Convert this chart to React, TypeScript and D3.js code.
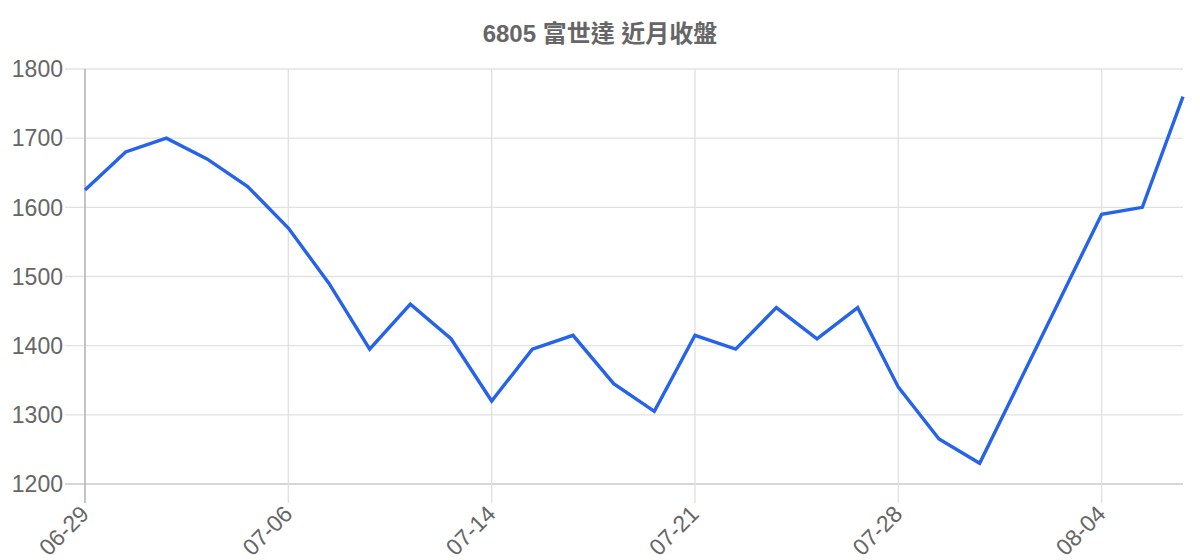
import React, { useRef, useEffect } from 'react';
import * as d3 from 'd3';

const title = '6805 富世達 近月收盤';

const dates = [
  '06-29', '06-30', '07-03', '07-04', '07-05', '07-06', '07-10', '07-11', '07-12', '07-13',
  '07-14', '07-17', '07-18', '07-19', '07-20', '07-21', '07-24', '07-25', '07-26', '07-27',
  '07-28', '07-31', '08-01', '08-02', '08-03', '08-04', '08-07', '08-08',
];

const closes = [
  1625, 1680, 1700, 1670, 1630, 1570, 1490, 1395, 1460, 1410,
  1320, 1395, 1415, 1345, 1305, 1415, 1395, 1455, 1410, 1455,
  1340, 1265, 1230, 1350, 1470, 1590, 1600, 1760,
];

const yTicks = [1200, 1300, 1400, 1500, 1600, 1700, 1800];
const labelEvery = 5;

const font = '"Liberation Sans", Arial, "Noto Sans CJK TC", sans-serif';

const PriceChart: React.FC = () => {
  const svgRef = useRef<SVGSVGElement>(null);

  useEffect(() => {
    if (!svgRef.current) return;

    const svg = d3.select(svgRef.current);
    svg.selectAll('*').remove();

    const width = 1200;
    const height = 560;
    const left = 85;
    const right = 1183;
    const top = 69;
    const bottom = 484;

    svg.attr('width', width).attr('height', height);

    const x = d3.scalePoint<string>().domain(dates).range([left, right]);
    const y = d3.scaleLinear().domain([1200, 1800]).range([bottom, top]);

    svg.append('text')
      .attr('x', width / 2)
      .attr('y', 42)
      .attr('text-anchor', 'middle')
      .attr('font-family', font)
      .attr('font-size', 24)
      .attr('font-weight', 'bold')
      .attr('fill', '#666')
      .text(title);

    // horizontal grid + y ticks
    const yg = svg.append('g');
    yg.selectAll('line')
      .data(yTicks)
      .enter().append('line')
      .attr('x1', left - 20)
      .attr('x2', right)
      .attr('y1', d => y(d))
      .attr('y2', d => y(d))
      .attr('stroke', d => (d === 1200 ? '#c8c8c8' : '#e2e2e2'))
      .attr('stroke-width', d => (d === 1200 ? 1.5 : 1.3));

    yg.selectAll('text')
      .data(yTicks)
      .enter().append('text')
      .attr('x', left - 22)
      .attr('y', d => y(d))
      .attr('dy', '0.36em')
      .attr('text-anchor', 'end')
      .attr('font-family', font)
      .attr('font-size', 23)
      .attr('fill', '#666')
      .text(d => d);

    // vertical grid + x ticks
    const tickDates = dates.filter((_, i) => i % labelEvery === 0);
    const xg = svg.append('g');
    xg.selectAll('line')
      .data(tickDates)
      .enter().append('line')
      .attr('x1', d => x(d)!)
      .attr('x2', d => x(d)!)
      .attr('y1', top)
      .attr('y2', bottom + 19)
      .attr('stroke', (d, i) => (i === 0 ? '#b0b0b0' : '#e0e0e0'))
      .attr('stroke-width', (d, i) => (i === 0 ? 1.5 : 1.3));

    xg.selectAll('text')
      .data(tickDates)
      .enter().append('text')
      .attr('transform', d => `translate(${x(d)! - 6},${bottom + 20}) rotate(-45)`)
      .attr('dy', '0.7em')
      .attr('text-anchor', 'end')
      .attr('font-family', font)
      .attr('font-size', 23)
      .attr('fill', '#666')
      .text(d => d);

    const line = d3.line<number>()
      .x((_, i) => x(dates[i])!)
      .y(d => y(d));

    svg.append('path')
      .datum(closes)
      .attr('d', line)
      .attr('fill', 'none')
      .attr('stroke', '#2563eb')
      .attr('stroke-width', 3.4)
      .attr('stroke-linejoin', 'miter');
  }, []);

  return <svg ref={svgRef} style={{ position: 'absolute', left: 0, top: 0 }}></svg>;
};

export default function App() {
  return <PriceChart />;
}
